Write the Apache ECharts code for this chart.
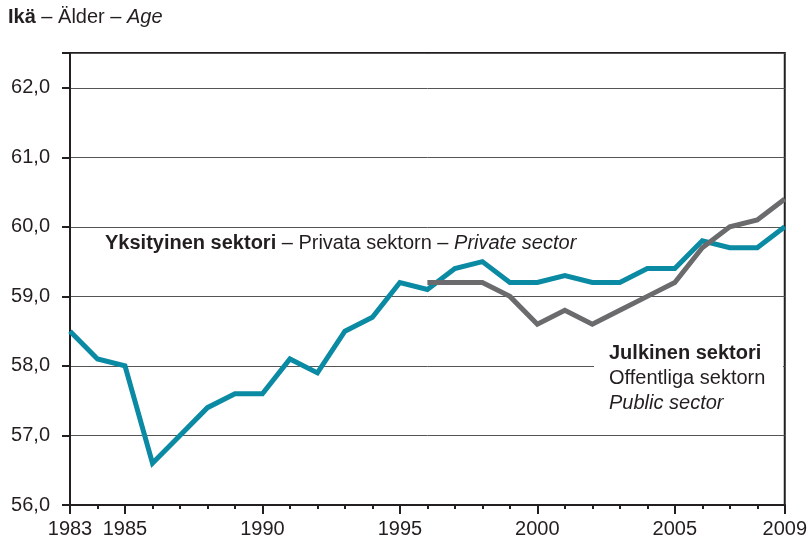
<!DOCTYPE html>
<html>
<head>
<meta charset="utf-8">
<script src="https://cdn.jsdelivr.net/npm/echarts@6/dist/echarts.min.js"></script>
<style>
  html, body { margin: 0; padding: 0; background: #fff; }
  #main { width: 810px; height: 545px; }
</style>
</head>
<body>
<div id="main"></div>
<script>
// data
var years = [1983, 1984, 1985, 1986, 1987, 1988, 1989, 1990, 1991, 1992, 1993, 1994, 1995,
    1996, 1997, 1998, 1999, 2000, 2001, 2002, 2003, 2004, 2005, 2006, 2007, 2008, 2009];
var privateAge = [58.5, 58.1, 58.0, 56.6, 57.0, 57.4, 57.6, 57.6, 58.1, 57.9, 58.5, 58.7, 59.2,
    59.1, 59.4, 59.5, 59.2, 59.2, 59.3, 59.2, 59.2, 59.4, 59.4, 59.8, 59.7, 59.7, 60.0];
var publicYears = [1996, 1997, 1998, 1999, 2000, 2001, 2002, 2003, 2004, 2005, 2006, 2007, 2008, 2009];
var publicAge = [59.2, 59.2, 59.2, 59.0, 58.6, 58.8, 58.6, 58.8, 59.0, 59.2, 59.7, 60.0, 60.1, 60.4];
var yearLabels = [1983, 1985, 1990, 1995, 2000, 2005, 2009];
var majorTicks = [1983, 1985, 1990, 1995, 2000, 2005, 2009];

(function () {
    var myChart = echarts.init(document.getElementById('main'));
    var font = 'Liberation Sans, Arial, sans-serif';
    var fs = 20;

    function pairs(xs, ys) {
        return xs.map(function (x, i) { return [x, ys[i]]; });
    }

    var option = {
        animation: false,
        backgroundColor: '#fff',
        grid: {
            left: 70, right: 24, top: 53, bottom: 40,
            show: true,
            borderColor: '#231f20',
            borderWidth: 2
        },
        xAxis: [
            {
                type: 'value',
                min: 1983, max: 2009,
                splitLine: { show: false },
                axisLine: { lineStyle: { color: '#231f20', width: 2 } },
                axisTick: {
                    customValues: majorTicks,
                    length: 9,
                    lineStyle: { color: '#231f20', width: 2 }
                },
                axisLabel: {
                    customValues: yearLabels,
                    formatter: function (v) { return String(v); },
                    color: '#231f20',
                    fontFamily: font,
                    fontSize: fs,
                    margin: 14
                }
            },
            {
                type: 'value',
                position: 'bottom',
                min: 1983, max: 2009,
                interval: 1,
                splitLine: { show: false },
                axisLine: { show: false },
                axisTick: { length: 4, lineStyle: { color: '#231f20', width: 2 } },
                axisLabel: { show: false }
            }
        ],
        yAxis: {
            type: 'value',
            min: 56, max: 62.5, interval: 1,
            axisLine: { show: true, lineStyle: { color: '#231f20', width: 2 } },
            axisTick: { show: true, length: 8, lineStyle: { color: '#231f20', width: 2 } },
            splitLine: { lineStyle: { color: '#555', width: 1 } },
            axisLabel: {
                color: '#231f20',
                fontFamily: font,
                fontSize: fs,
                margin: 20,
                formatter: function (v) {
                    return Math.abs(v - Math.round(v)) < 1e-6 ? v.toFixed(1).replace('.', ',') : '';
                }
            }
        },
        series: [
            {
                name: 'Private sector',
                type: 'line',
                data: pairs(years, privateAge),
                symbol: 'none',
                z: 3,
                lineStyle: { color: '#0b8aa3', width: 5, join: 'miter' }
            },
            {
                name: 'Public sector',
                type: 'line',
                data: pairs(publicYears, publicAge),
                symbol: 'none',
                z: 4,
                lineStyle: { color: '#6b6b6d', width: 5, cap: 'butt', join: 'miter' }
            }
        ],
        graphic: [
            {
                type: 'text', left: 8, top: 7, z: 100,
                style: {
                    text: '{b|Ikä} – Älder – {i|Age}',
                    font: fs + 'px ' + font,
                    fill: '#231f20',
                    rich: {
                        b: { fontWeight: 'bold', fontSize: fs, fontFamily: font },
                        i: { fontStyle: 'italic', fontSize: fs, fontFamily: font }
                    }
                }
            },
            {
                type: 'text', left: 105, top: 233, z: 100,
                style: {
                    text: '{b|Yksityinen sektori} – Privata sektorn – {i|Private sector}',
                    font: fs + 'px ' + font,
                    fill: '#231f20',
                    rich: {
                        b: { fontWeight: 'bold', fontSize: fs, fontFamily: font },
                        i: { fontStyle: 'italic', fontSize: fs, fontFamily: font }
                    }
                }
            },
            {
                type: 'rect', z: 90,
                shape: { x: 594, y: 338, width: 189, height: 82 },
                style: { fill: '#fff' }
            },
            {
                type: 'text', left: 609, top: 341, z: 100,
                style: {
                    text: '{b|Julkinen sektori}\n{n|Offentliga sektorn}\n{i|Public sector}',
                    font: fs + 'px ' + font,
                    fill: '#231f20',
                    lineHeight: 25,
                    rich: {
                        b: { fontWeight: 'bold', fontSize: fs, fontFamily: font, lineHeight: 25 },
                        n: { fontSize: fs, fontFamily: font, lineHeight: 25 },
                        i: { fontStyle: 'italic', fontSize: fs, fontFamily: font, lineHeight: 25 }
                    }
                }
            }
        ]
    };

    myChart.setOption(option);
    window.addEventListener('resize', function () {
        myChart.resize();
    });
})();
</script>
</body>
</html>
